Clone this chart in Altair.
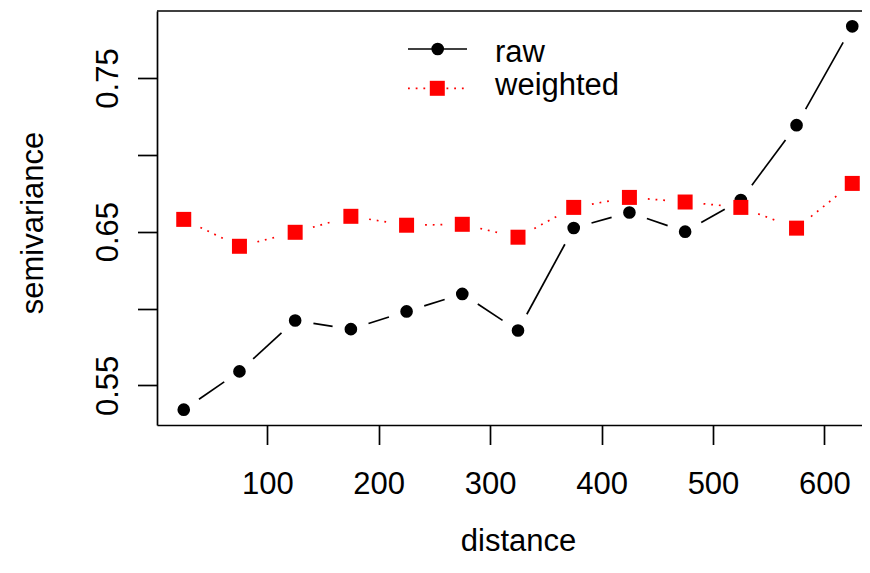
import altair as alt
import numpy as np
import pandas as pd

# ---- data ----
distance = [25, 75, 125, 175, 225, 275, 325, 375, 425, 475, 525, 575, 625]
raw = [0.5342, 0.5591, 0.5922, 0.5866, 0.5981, 0.6095, 0.5857,
       0.6524, 0.6625, 0.6500, 0.6706, 0.7193, 0.7836]
weighted = [0.6580, 0.6405, 0.6496, 0.6600, 0.6542, 0.6548, 0.6464,
            0.6658, 0.6723, 0.6693, 0.6658, 0.6523, 0.6814]
series_names = ["raw", "weighted"]
x_ticks = [100, 200, 300, 400, 500, 600]
y_ticks = [0.55, 0.60, 0.65, 0.70, 0.75]
y_tick_labels = ["0.55", "", "0.65", "", "0.75"]

# ---- layout ----
W_FULL, H = 722, 414      # R plot region (extends past the right edge of the picture)
W = 705                    # visible part of it
FONT = "Liberation Sans"
FS = 31
LW = 1.7
GAP = 18.5  # R type="b" gap around points, in px


def extend(lo, hi):
    d = (hi - lo) * 0.04
    return [lo - d, hi + d]


xdom_full = extend(min(distance), max(distance))
ydom = extend(min(raw + weighted), max(raw + weighted))
sx = W_FULL / (xdom_full[1] - xdom_full[0])
sy = H / (ydom[1] - ydom[0])
xdom = [xdom_full[0], xdom_full[0] + W / sx]


def segments(xs, ys):
    rows = []
    for i in range(len(xs) - 1):
        x1, y1, x2, y2 = xs[i], ys[i], xs[i + 1], ys[i + 1]
        L = float(np.hypot((x2 - x1) * sx, (y2 - y1) * sy))
        if L <= 2 * GAP:
            continue
        t = GAP / L
        rows.append(dict(x=x1 + (x2 - x1) * t, y=y1 + (y2 - y1) * t,
                         x2=x2 - (x2 - x1) * t, y2=y2 - (y2 - y1) * t))
    return pd.DataFrame(rows)


raw_df = pd.DataFrame({"x": distance, "y": raw})
w_df = pd.DataFrame({"x": distance, "y": weighted})
raw_seg = segments(distance, raw)
w_seg = segments(distance, weighted)

label_expr = " : ".join(
    f"format(datum.value, '.2f') == '{v:.2f}' ? '{lab}'" for v, lab in zip(y_ticks, y_tick_labels)
) + " : ''"

X = alt.X("x:Q", scale=alt.Scale(domain=xdom, nice=False, zero=False),
          axis=alt.Axis(values=x_ticks, format="d", grid=False,
                        domain=True, domainColor="black", domainWidth=LW,
                        tickSize=19.5, tickWidth=LW, tickColor="black",
                        labelFont=FONT, labelFontSize=FS, labelColor="black",
                        labelPadding=25, labelBaseline="top", labelOverlap=False,
                        labelFlush=False,
                        title="distance", titleFont=FONT, titleFontSize=FS,
                        titleFontWeight="normal", titleColor="black",
                        titleX=W_FULL / 2, titleY=125, titleBaseline="alphabetic",
                        titleAlign="center"))
Y = alt.Y("y:Q", scale=alt.Scale(domain=ydom, nice=False, zero=False),
          axis=alt.Axis(values=y_ticks, labelExpr=label_expr, grid=False,
                        domain=True, domainColor="black", domainWidth=LW,
                        tickSize=19.5, tickWidth=LW, tickColor="black",
                        labelFont=FONT, labelFontSize=FS, labelColor="black",
                        labelAngle=270, labelAlign="center", labelBaseline="alphabetic",
                        labelPadding=20.5, labelOverlap=False, labelFlush=False,
                        title="semivariance", titleFont=FONT, titleFontSize=FS,
                        titleFontWeight="normal", titleColor="black",
                        titleAngle=270, titleX=-115, titleY=211.5,
                        titleBaseline="alphabetic", titleAlign="center"))

raw_lines = alt.Chart(raw_seg).mark_rule(color="black", strokeWidth=LW).encode(
    x=X, y=Y, x2="x2:Q", y2="y2:Q")
raw_pts = alt.Chart(raw_df).mark_point(shape="circle", filled=True, size=160,
                                       color="black", opacity=1, strokeWidth=0).encode(x=X, y=Y)
w_lines = alt.Chart(w_seg).mark_rule(color="#FF0000", strokeWidth=LW,
                                     strokeDash=[1.8, 5.9]).encode(
    x=X, y=Y, x2="x2:Q", y2="y2:Q")
w_pts = alt.Chart(w_df).mark_point(shape="square", filled=True, size=225,
                                   color="#FF0000", opacity=1, strokeWidth=0).encode(x=X, y=Y)

# top edge of the plot box (the right edge lies outside the picture)
frame_top = alt.Chart(pd.DataFrame({"edge": ["top"]})).mark_rule(
    color="black", strokeWidth=LW).encode(x=alt.value(0), x2=alt.value(W + 10), y=alt.value(0))

# ---- legend (top centre, no box) ----
leg_raw = pd.DataFrame({"label": [series_names[0]]})
leg_w = pd.DataFrame({"label": [series_names[1]]})
lg1_line = alt.Chart(leg_raw).mark_rule(color="black", strokeWidth=LW).encode(
    x=alt.value(251), x2=alt.value(310), y=alt.value(38))
lg1_pt = alt.Chart(leg_raw).mark_point(shape="circle", filled=True, size=160,
                                       color="black", opacity=1, strokeWidth=0).encode(
    x=alt.value(280.7), y=alt.value(38))
lg1_txt = alt.Chart(leg_raw).mark_text(align="left", baseline="alphabetic", font=FONT,
                                       fontSize=FS, color="black").encode(
    x=alt.value(338), y=alt.value(50.7), text="label:N")
lg2_line = alt.Chart(leg_w).mark_rule(color="#FF0000", strokeWidth=LW,
                                      strokeDash=[1.8, 5.9]).encode(
    x=alt.value(251), x2=alt.value(310), y=alt.value(77.3))
lg2_pt = alt.Chart(leg_w).mark_point(shape="square", filled=True, size=225,
                                     color="#FF0000", opacity=1, strokeWidth=0).encode(
    x=alt.value(280.3), y=alt.value(77.3))
lg2_txt = alt.Chart(leg_w).mark_text(align="left", baseline="alphabetic", font=FONT,
                                     fontSize=FS, color="black").encode(
    x=alt.value(338), y=alt.value(84), text="label:N")

chart = alt.layer(
    frame_top, raw_lines, raw_pts, w_lines, w_pts,
    lg1_line, lg1_pt, lg1_txt, lg2_line, lg2_pt, lg2_txt
).properties(
    width=W, height=H,
    autosize=alt.AutoSizeParams(type="none"),
    padding={"left": 149, "top": 3, "right": 0, "bottom": 133},
    background="white",
).configure_view(stroke=None)

chart.save("out.html", embed_options={"renderer": "svg", "actions": False})
